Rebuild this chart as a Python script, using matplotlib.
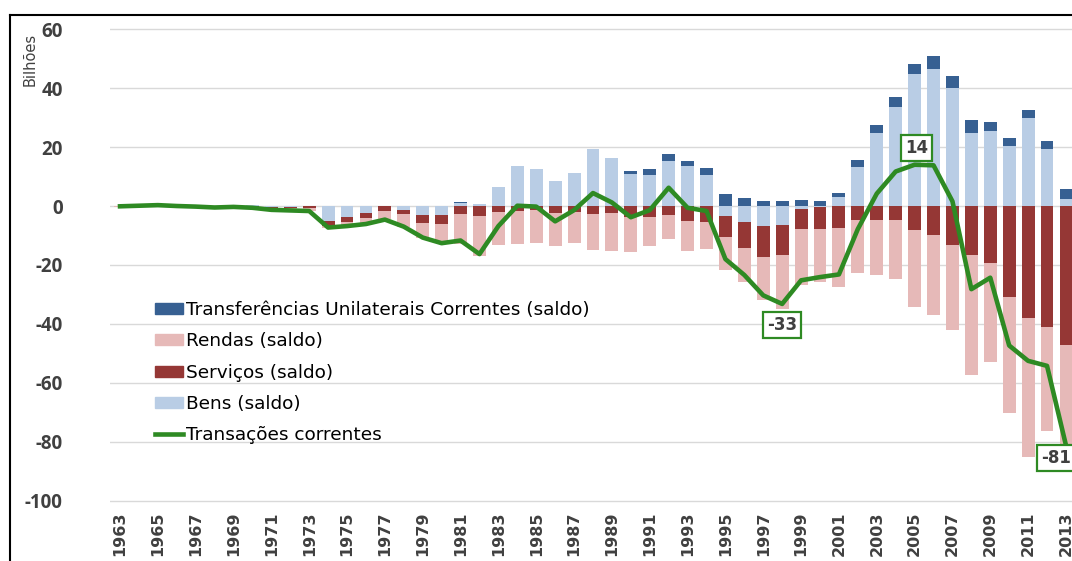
import numpy as np
import matplotlib
matplotlib.use("Agg")
import matplotlib.pyplot as plt
from matplotlib.lines import Line2D
from matplotlib.patches import Patch

plt.rcParams['axes.unicode_minus'] = False

# dados (US$ bilhões), 1963-2013
anos = list(range(1963, 2014))

bens = [0.1, 0.3, 0.6, 0.4, 0.2, 0.0, 0.3, 0.2, -0.3, -0.2, 0.0,
        -5.1, -3.6, -2.5, 0.1, -1.2, -3.0, -3.0, 1.0, 0.7, 6.5,
        13.4, 12.5, 8.4, 11.2, 19.4, 16.2, 11.0, 10.6, 15.4, 13.6,
        10.6, -3.3, -5.3, -6.7, -6.4, -1.1, -0.5, 2.9, 13.2, 24.9,
        33.6, 44.9, 46.3, 40.0, 24.9, 25.3, 20.2, 29.9, 19.4, 2.5]

servicos = [-0.1, -0.1, -0.1, -0.2, -0.2, -0.2, -0.2, -0.3, -0.4, -0.6, -0.8,
            -1.6, -1.7, -1.7, -1.6, -1.5, -2.6, -3.2, -2.8, -3.4, -2.1,
            -1.7, -1.4, -2.5, -2.1, -2.7, -2.5, -3.8, -3.6, -3.1, -5.1,
            -5.3, -7.3, -8.8, -10.5, -10.2, -6.8, -7.3, -7.3, -4.7, -4.9,
            -4.6, -8.2, -9.7, -13.1, -16.7, -19.2, -30.8, -37.9, -41.0, -47.0]

rendas = [-0.1, -0.2, -0.2, -0.2, -0.3, -0.3, -0.4, -0.5, -0.6, -0.7, -0.9,
          -0.7, -1.4, -1.7, -2.8, -4.5, -5.3, -5.9, -10.0, -13.4, -11.1,
          -11.3, -11.3, -11.1, -10.3, -12.2, -12.7, -11.8, -9.8, -8.1, -10.2,
          -9.3, -11.1, -11.8, -14.7, -18.2, -18.9, -17.9, -20.0, -18.1, -18.4,
          -20.3, -26.0, -27.3, -29.0, -40.5, -33.7, -39.3, -47.2, -35.3, -39.8]

transferencias = [0.0, 0.0, 0.0, 0.0, 0.0, 0.0, 0.0, 0.0, 0.0, 0.0, 0.0,
                  0.0, 0.0, 0.0, 0.0, 0.0, 0.0, 0.0, 0.2, -0.2, 0.1,
                  0.2, 0.1, 0.1, 0.1, 0.1, 0.2, 0.9, 1.8, 2.1, 1.5,
                  2.4, 4.0, 2.6, 1.8, 1.6, 1.9, 1.7, 1.4, 2.3, 2.7,
                  3.3, 3.4, 4.5, 4.1, 4.2, 3.1, 2.8, 2.7, 2.8, 3.4]

transacoes = [-0.1, 0.1, 0.3, 0.0, -0.2, -0.5, -0.3, -0.6, -1.3, -1.5, -1.7,
              -7.3, -6.8, -6.1, -4.6, -7.0, -10.7, -12.6, -11.7, -16.3, -6.8,
              0.1, -0.2, -5.2, -1.4, 4.4, 1.2, -3.8, -1.4, 6.2, -0.6,
              -1.7, -18.0, -23.4, -30.3, -33.2, -25.2, -24.1, -23.2, -7.8, 4.2,
              11.7, 14.0, 13.8, 1.6, -28.2, -24.3, -47.3, -52.5, -54.2, -81.1]

# rótulos destacados: ano -> deslocamento (pt)
destaques = {1998: (0, -15), 2005: (1.5, 12), 2013: (-7, -9)}

c_bens = '#B9CDE5'
c_serv = '#953735'
c_rend = '#E6B9B8'
c_transf = '#376092'
c_linha = '#2E8A23'
cinza = '#404040'

fig = plt.figure(figsize=(10.72, 5.61), dpi=100)
ax = fig.add_axes([110/1072, 58/561, 1 - 110/1072, 476/561])

x = np.array(anos)
pos = np.zeros(len(anos))
neg = np.zeros(len(anos))
w = 0.68
for serie, cor in [(bens, c_bens), (servicos, c_serv), (rendas, c_rend), (transferencias, c_transf)]:
    v = np.array(serie)
    base = np.where(v >= 0, pos, neg)
    ax.bar(x, v, w, bottom=base, color=cor, zorder=2)
    pos = pos + np.where(v >= 0, v, 0)
    neg = neg + np.where(v < 0, v, 0)

ax.plot(x, transacoes, color=c_linha, lw=3.3, zorder=3)

for ano, (dx, dy) in destaques.items():
    val = transacoes[anos.index(ano)]
    ax.annotate(f"{val:.0f}", xy=(ano, val), xytext=(dx, dy), textcoords='offset points',
                ha='center', va='center', fontsize=12, fontweight='bold', color=cinza,
                bbox=dict(boxstyle='square,pad=0.25', fc='white', ec=c_linha, lw=1.6),
                zorder=5, annotation_clip=False)

ax.set_ylim(-100.7, 60.7)
ax.set_xlim(1962.47, 2013.32)
ax.set_yticks(range(-100, 61, 20))
ax.set_xticks(anos[::2])
ax.set_xticklabels([str(a) for a in anos[::2]], rotation=90, fontsize=11.5,
                   fontweight='bold', color=cinza, family='DejaVu Sans')
for t in ax.get_yticklabels():
    t.set_family('Open Sans')
    t.set_fontweight('bold')
    t.set_fontsize(13.5)
    t.set_color(cinza)
ax.tick_params(length=0)
ax.tick_params(axis='y', pad=34)
ax.tick_params(axis='x', pad=6)
for s in ax.spines.values():
    s.set_visible(False)
ax.grid(axis='y', color='#D9D9D9', lw=1, zorder=0)
ax.set_axisbelow(True)

fig.text(30/1072, 1 - 59/561, 'Bilhões', rotation=90, ha='center', va='center',
         fontsize=10.5, color=cinza)

handles = [Patch(color=c_transf), Patch(color=c_rend), Patch(color=c_serv), Patch(color=c_bens),
           Line2D([], [], color=c_linha, lw=3.3)]
labels = ['Transferências Unilaterais Correntes (saldo)', 'Rendas (saldo)', 'Serviços (saldo)',
          'Bens (saldo)', 'Transações correntes']
fig.legend(handles, labels, loc='upper left', bbox_to_anchor=(155/1072, 1 - 301/561),
           frameon=False, fontsize=13.3, handlelength=1.5, handleheight=0.55,
           handletextpad=0.2, labelspacing=0.72, borderpad=0, borderaxespad=0)

# moldura
fig.add_artist(Line2D([10/1072, 1], [1 - 15/561, 1 - 15/561], color='black', lw=1.5,
                      transform=fig.transFigure))
fig.add_artist(Line2D([10/1072, 10/1072], [0, 1 - 15/561], color='black', lw=1.5,
                      transform=fig.transFigure))

fig.savefig('out.png', dpi=100)
